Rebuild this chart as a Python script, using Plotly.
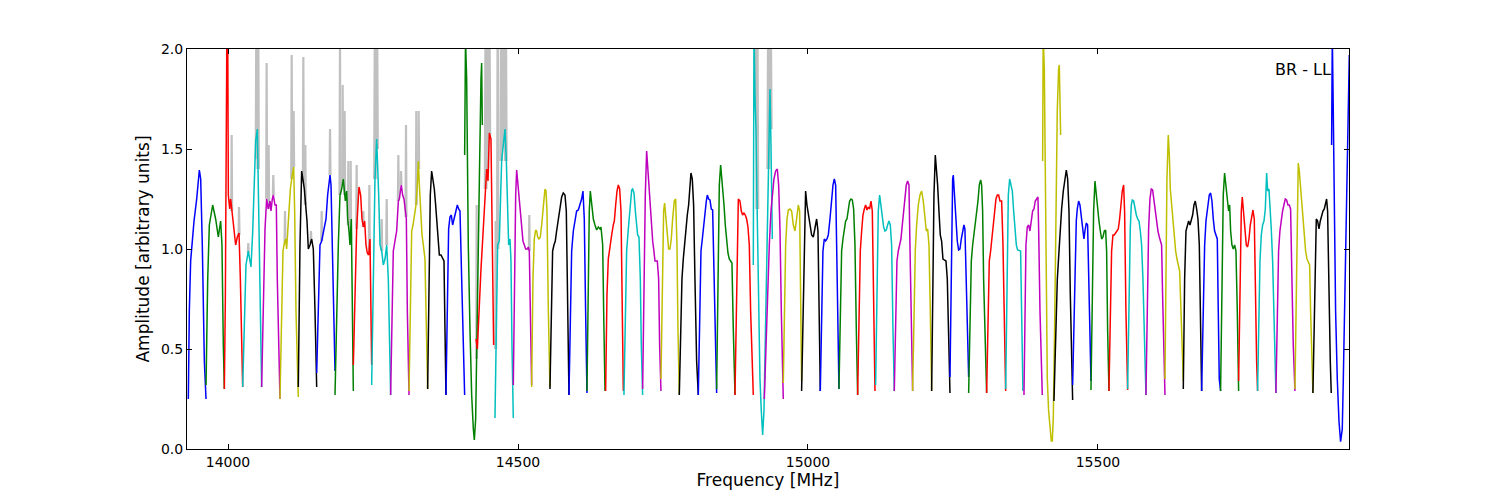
import plotly.graph_objects as go

# ---------------- data ----------------
x_ticks_mhz = [14000, 14500, 15000, 15500]
x_tick_labels = ["14000", "14500", "15000", "15500"]
y_ticks = [0.0, 0.5, 1.0, 1.5, 2.0]
y_tick_labels = ["0.0", "0.5", "1.0", "1.5", "2.0"]
x_range_mhz = [13929.3, 15932.8]
y_range = [0.0, 2.0]
label_text = "BR - LL"

color_cycle = ["#0000ff", "#008000", "#ff0000", "#00bfbf", "#bf00bf", "#bfbf00", "#000000"]
raw_color = "#c0c0c0"

# per-channel (spectral window) frequencies [MHz]
seg_freq = [
    [13931.6,13933.3,13935.6,13941.4,13946.0,13950.6,13952.9,13955.7,13959.2,13962.1],
    [13962.1,13965.0,13967.8,13973.6,13978.7,13983.3,13987.3,13989.6,13991.9,13993.7],
    [13993.7,13995.4,13997.7,13998.8,14000.6,14002.9,14004.6,14006.9,14009.8,14013.2,14016.1,14019.0,14021.3,14023.6,14025.3],
    [14025.3,14028.1,14031.0,14035.0,14039.6,14042.5,14045.4,14047.7,14050.6,14052.9,14055.2,14058.0],
    [14058.0,14060.9,14063.8,14066.6,14069.5,14072.4,14074.1,14076.4,14078.1,14081.0,14083.3,14085.0,14087.3,14089.6],
    [14089.6,14092.5,14094.8,14096.5,14099.4,14101.1,14104.0,14107.5,14109.8,14113.2,14114.9,14117.2,14121.2],
    [14121.2,14124.1,14127.0,14129.9,14131.6,14133.9,14136.2,14138.5,14141.4,14144.2,14147.1,14150.0,14152.9],
    [14152.9,14155.7,14158.6,14161.5,14166.1,14169.0,14171.8,14175.9,14177.6,14179.9,14182.2,14184.5],
    [14184.5,14187.3,14190.2,14193.1,14196.0,14198.8,14200.6,14202.3,14204.6,14206.3,14208.6,14210.3,14212.6,14214.4,14216.1],
    [14216.1,14219.0,14221.8,14225.8,14228.7,14231.0,14233.3,14235.6,14237.9,14240.2,14242.5,14244.8,14246.5,14247.7],
    [14247.7,14250.6,14253.4,14256.3,14258.0,14259.8,14262.1,14265.0,14267.8,14270.7,14273.6,14276.4,14278.7,14280.4],
    [14280.4,14282.7,14285.0,14287.9,14290.8,14293.7,14295.4,14298.8,14301.1,14303.4,14305.7,14307.5,14309.2,14312.1],
    [14312.1,14314.4,14316.7,14319.0,14321.3,14324.1,14326.4,14328.2,14329.9,14332.2,14334.5,14336.8,14339.6,14341.4,14344.2],
    [14344.2,14346.5,14348.8,14351.1,14353.4,14355.7,14358.0,14359.8,14362.1,14364.4,14367.2,14370.1,14372.4,14374.1,14375.8],
    [14375.8,14378.1,14380.4,14382.7,14385.0,14387.3,14389.6,14392.5,14395.4,14397.7,14400.0,14402.9,14405.7,14408.0],
    [14408.0,14409.5,14411.5,14414.3,14417.2,14420.1,14423.0,14424.7,14427.0,14429.3,14431.6,14433.9,14436.2,14437.3,14438.5],
    [14427.6,14429.9,14436.2,14440.2,14446.0,14448.3,14450.6,14453.4,14455.7,14458.0],
    [14460.3,14462.6,14464.9,14467.8,14470.1,14471.8,14474.7,14477.6,14479.9,14482.2,14483.9,14486.2,14487.9,14489.6,14491.9],
    [14491.9,14493.7,14496.0,14497.7,14499.4,14501.7,14504.0,14506.3,14508.6,14510.9,14513.2,14516.1,14517.8,14519.5,14521.2,14523.5],
    [14523.5,14525.8,14528.1,14530.4,14532.2,14533.9,14536.2,14538.5,14540.8,14543.7,14546.5,14548.3,14550.0,14552.3,14555.1],
    [14555.1,14557.4,14559.7,14562.0,14564.3,14566.6,14569.5,14572.4,14575.3,14578.1,14581.0,14583.3,14585.6,14587.9],
    [14587.9,14590.2,14592.5,14595.4,14598.2,14601.1,14604.0,14606.9,14609.7,14612.0,14614.3,14616.6,14618.9],
    [14618.9,14621.2,14622.9,14624.7,14627.0,14629.9,14632.7,14635.6,14638.5,14641.4,14643.1,14646.0,14647.7,14650.0],
    [14651.1,14653.4,14655.7,14658.6,14661.5,14664.3,14666.1,14668.4,14670.7,14673.0,14675.3,14677.6,14679.9,14681.6],
    [14682.7,14685.0,14687.3,14690.2,14693.1,14696.0,14697.7,14700.0,14702.3,14704.6,14706.3,14708.6,14710.9,14712.6,14714.9],
    [14714.9,14717.2,14719.5,14721.8,14723.5,14725.8,14728.1,14730.4,14732.2,14733.9,14736.2,14740.2,14742.5,14744.2,14746.5],
    [14746.5,14748.8,14751.1,14752.8,14755.1,14757.4,14759.7,14762.0,14764.3,14766.6,14769.5,14771.8,14774.1,14775.8,14778.1],
    [14778.1,14780.4,14782.7,14785.0,14787.3,14789.6,14791.9,14794.2,14796.5,14798.2,14800.5,14802.8,14805.1,14808.0,14810.9],
    [14810.9,14813.2,14815.5,14817.8,14820.1,14822.4,14824.7,14826.4,14828.7,14831.0,14833.3,14835.6,14837.9,14840.2,14842.5],
    [14842.5,14844.8,14847.1,14849.4,14851.1,14852.9,14855.2,14857.4,14859.7,14862.0,14864.3,14866.6,14868.9,14871.2,14874.1],
    [14874.1,14876.4,14878.1,14879.9,14882.7,14885.0,14887.3,14889.6,14891.9,14894.2,14896.5,14898.8,14901.1,14903.4,14905.7],
    [14905.7,14906.9,14908.6,14910.3,14911.5,14913.2,14914.9,14917.2,14919.5,14921.8,14924.1,14925.8,14927.6,14929.9,14932.2,14934.5,14936.2,14937.3,14938.5],
    [14924.7,14927.6,14930.4,14933.3,14936.2,14938.5,14941.3,14944.2,14947.1,14949.4,14951.7,14954.0,14955.7,14957.4],
    [14957.4,14959.2,14961.5,14963.8,14966.1,14968.9,14971.8,14974.7,14977.6,14980.4,14983.3,14985.6,14987.3,14989.0],
    [14989.0,14991.3,14993.6,14995.9,14998.2,15000.5,15003.4,15006.3,15009.2,15012.0,15014.9,15017.2,15018.9,15021.2],
    [15021.2,15023.5,15025.8,15028.1,15030.4,15032.7,15035.0,15037.9,15040.8,15043.1,15045.4,15047.7,15049.4,15051.1,15053.4],
    [15053.4,15055.7,15058.0,15060.3,15062.6,15064.9,15067.2,15069.5,15071.8,15074.1,15076.4,15078.7,15081.0,15083.3,15085.6],
    [15085.6,15087.9,15090.2,15092.5,15094.8,15097.1,15099.4,15101.7,15104.0,15106.3,15108.6,15110.9,15113.2,15115.5],
    [15116.6,15118.9,15121.2,15123.5,15125.8,15128.1,15130.4,15132.7,15135.0,15137.3,15139.6,15141.9,15144.2,15146.5,15148.8],
    [15148.8,15151.1,15153.4,15155.7,15158.0,15160.3,15162.6,15164.9,15167.2,15169.5,15171.8,15174.1,15175.8,15178.1,15180.4],
    [15180.4,15182.7,15185.0,15187.3,15190.2,15193.1,15195.9,15198.8,15201.7,15204.0,15206.3,15208.6,15210.9,15213.2],
    [15213.2,15215.5,15217.2,15219.5,15221.2,15223.5,15225.8,15228.1,15230.4,15232.7,15235.0,15237.9,15240.2,15242.5,15244.8],
    [15244.8,15247.1,15249.4,15250.5,15252.8,15255.1,15257.4,15259.7,15262.0,15264.3,15266.6,15268.9,15270.6,15272.4,15274.7,15277.0],
    [15277.0,15279.3,15281.6,15283.9,15286.2,15288.5,15290.8,15293.1,15295.4,15297.7,15299.4,15301.1,15302.8,15305.1,15308.0],
    [15308.0,15310.3,15312.6,15314.9,15317.2,15319.5,15321.8,15324.1,15326.4,15328.7,15331.0,15333.9,15336.2,15338.5,15340.8],
    [15340.8,15343.1,15345.4,15347.7,15350.0,15352.3,15354.6,15356.9,15359.2,15361.4,15364.3,15366.6,15368.3,15370.6],
    [15372.4,15374.1,15375.8,15378.1,15380.4,15382.7,15385.0,15387.3,15389.6,15391.9,15394.2,15396.5,15397.7,15400.0,15404.0],
    [15404.6,15405.5,15407.5,15408.6,15410.3,15412.6,15414.9,15417.2,15419.5,15421.2,15422.9,15425.2,15427.5,15429.8,15432.1,15433.3,15435.6],
    [15424.1,15427.0,15429.9,15432.8,15435.0,15437.3,15440.2,15443.1,15445.4,15447.7,15450.0,15452.3,15454.6,15456.3],
    [15456.3,15458.6,15460.9,15462.6,15464.3,15466.6,15468.9,15471.2,15473.5,15475.8,15477.5,15479.8,15482.1,15484.4,15486.7,15487.9],
    [15487.9,15490.2,15492.5,15494.8,15497.1,15499.4,15501.7,15504.0,15506.3,15508.6,15510.9,15513.2,15514.9,15516.6,15518.9],
    [15518.9,15521.2,15523.5,15525.8,15528.1,15530.4,15532.7,15535.0,15537.3,15539.6,15541.9,15544.2,15545.9,15548.2,15551.1],
    [15551.1,15553.4,15555.7,15557.4,15559.2,15561.5,15563.8,15566.1,15568.4,15570.7,15573.0,15575.2,15577.5,15579.8,15582.7],
    [15582.7,15585.0,15587.3,15589.6,15591.9,15594.2,15596.5,15598.8,15601.1,15603.4,15605.7,15608.0,15609.7,15611.4,15613.2,15615.5],
    [15615.5,15617.2,15618.9,15621.2,15623.0,15624.7,15627.0,15629.3,15631.6,15633.9,15636.2,15638.5,15640.8,15643.1,15645.4,15647.1],
    [15647.1,15649.4,15651.7,15654.0,15656.3,15658.6,15660.9,15663.2,15665.5,15667.8,15670.1,15672.4,15674.7,15676.4,15678.7],
    [15678.7,15681.6,15683.9,15686.2,15689.0,15691.9,15694.2,15696.5,15698.8,15701.1,15703.4,15705.7,15707.4,15709.1,15711.4],
    [15711.4,15713.7,15716.0,15718.3,15720.6,15722.9,15725.2,15727.0,15728.7,15731.0,15733.3,15735.6,15737.9,15740.2,15742.5],
    [15742.5,15744.8,15747.1,15748.8,15751.1,15753.4,15755.7,15758.0,15760.3,15762.6,15764.9,15767.2,15769.5,15771.2,15773.5,15775.2],
    [15775.2,15777.5,15779.3,15781.6,15783.9,15786.2,15788.5,15790.8,15792.5,15794.8,15796.5,15798.8,15801.1,15803.4,15806.8],
    [15806.8,15809.1,15811.4,15813.7,15816.0,15818.3,15820.6,15822.9,15825.2,15827.5,15829.8,15832.1,15834.4,15836.7,15839.6],
    [15839.6,15841.9,15843.6,15845.3,15847.1,15849.4,15851.1,15853.4,15855.7,15858.0,15860.3,15862.6,15864.9,15866.6,15868.9,15870.6],
    [15870.6,15872.9,15874.7,15876.4,15878.7,15881.0,15883.3,15885.6,15887.9,15890.2,15892.5,15894.2,15895.9,15898.2,15900.5,15902.2],
    [15902.8,15904.0,15905.7,15907.4,15909.7,15912.6,15915.5,15918.3,15921.2,15923.0,15925.8,15928.7,15931.6,15933.3],
]

# per-channel calibrated amplitudes [arbitrary units]
seg_amp = [
    [0.25,0.69,0.94,1.14,1.25,1.395,1.35,1.02,0.44,0.25],
    [0.32,0.85,1.12,1.22,1.15,1.06,1.14,1.02,0.52,0.30],
    [0.30,0.75,1.90,2.60,1.27,1.20,1.25,1.19,1.09,1.02,1.06,1.08,0.85,0.44,0.31],
    [0.31,0.69,0.92,0.99,0.91,1.08,1.30,1.54,1.60,1.20,0.60,0.31],
    [0.31,0.69,1.10,1.25,1.20,1.24,1.19,1.25,1.27,1.22,1.22,0.85,0.44,0.25],
    [0.25,0.69,0.99,1.02,1.05,1.00,1.15,1.30,1.35,1.41,1.19,0.69,0.26],
    [0.31,1.02,1.39,1.34,1.30,1.22,1.14,1.00,1.02,1.05,1.00,0.69,0.31],
    [0.38,0.77,1.02,1.04,1.12,1.15,1.27,1.37,1.32,1.02,0.69,0.39],
    [0.27,0.69,1.02,1.27,1.30,1.35,1.27,1.24,1.29,1.15,1.09,1.02,1.15,0.69,0.29],
    [0.42,0.77,1.10,1.31,1.27,1.15,1.11,1.14,1.02,0.98,0.97,1.05,0.69,0.42],
    [0.32,0.85,1.35,1.55,1.45,1.27,1.02,0.99,0.92,0.95,1.02,0.85,0.52,0.27],
    [0.27,0.69,0.99,1.04,1.09,1.24,1.25,1.32,1.27,1.25,1.17,1.15,0.69,0.27],
    [0.29,0.77,1.09,1.12,1.17,1.22,1.32,1.44,1.32,1.19,1.07,1.02,0.95,0.69,0.30],
    [0.30,0.85,1.27,1.39,1.35,1.30,1.22,1.15,1.02,0.97,0.97,0.95,0.94,0.60,0.27],
    [0.27,0.69,1.10,1.16,1.17,1.12,1.15,1.18,1.22,1.20,1.19,0.85,0.44,0.27],
    [1.47,2.05,1.85,1.02,0.60,0.27,0.10,0.045,0.15,0.52,0.94,1.44,1.85,1.93,1.62],
    [0.55,0.50,0.90,1.12,1.40,1.34,1.58,1.55,1.00,0.52],
    [0.155,0.52,1.02,1.04,1.27,1.44,1.52,1.60,1.44,1.19,1.02,1.05,0.94,0.52,0.155],
    [0.32,0.85,1.27,1.395,1.34,1.27,1.19,1.10,1.04,1.02,1.00,1.00,1.01,0.99,0.69,0.32],
    [0.31,0.85,1.05,1.095,1.09,1.06,1.05,1.06,1.12,1.22,1.30,1.29,1.19,0.69,0.31],
    [0.30,0.77,0.99,1.02,1.04,1.09,1.14,1.19,1.26,1.28,1.27,1.19,0.69,0.27],
    [0.27,0.69,0.99,1.09,1.15,1.19,1.195,1.22,1.25,1.29,1.15,0.69,0.28],
    [0.29,0.85,1.19,1.29,1.24,1.15,1.12,1.095,1.11,1.10,1.11,1.02,0.69,0.29],
    [0.29,0.77,0.95,1.02,1.07,1.12,1.14,1.22,1.29,1.32,1.30,1.19,0.69,0.29],
    [0.27,0.69,0.99,1.10,1.22,1.295,1.30,1.28,1.19,1.12,1.07,1.06,0.85,0.52,0.27],
    [0.30,0.85,1.27,1.49,1.42,1.32,1.19,1.09,1.04,1.00,0.94,0.94,0.85,0.52,0.29],
    [0.35,0.85,1.19,1.23,1.15,1.05,1.00,1.00,1.05,1.15,1.24,1.25,1.02,0.60,0.27],
    [0.27,0.60,0.85,0.95,1.04,1.09,1.17,1.22,1.32,1.38,1.35,1.22,0.85,0.44,0.27],
    [0.27,0.69,0.99,1.05,1.12,1.17,1.24,1.27,1.25,1.245,1.20,1.195,0.85,0.52,0.28],
    [0.30,0.85,1.32,1.42,1.37,1.32,1.22,1.12,1.04,0.98,0.95,0.94,0.93,0.60,0.27],
    [0.27,0.69,1.10,1.25,1.24,1.19,1.17,1.18,1.17,1.15,1.11,1.02,0.69,0.44,0.27],
    [0.92,2.10,1.77,1.60,1.35,1.02,0.69,0.35,0.19,0.07,0.19,0.44,0.69,1.10,1.52,1.80,1.52,1.27,1.05],
    [0.25,0.52,0.85,1.02,1.19,1.27,1.35,1.39,1.40,1.32,1.10,0.69,0.44,0.25],
    [0.33,0.69,1.02,1.15,1.195,1.20,1.19,1.12,1.09,1.15,1.22,1.19,0.69,0.34],
    [0.29,0.69,1.10,1.29,1.22,1.17,1.12,1.07,1.06,1.10,1.15,1.09,0.69,0.29],
    [0.29,0.69,0.99,1.05,1.04,1.05,1.07,1.15,1.27,1.32,1.35,1.32,1.02,0.60,0.30],
    [0.30,0.69,0.99,1.05,1.09,1.14,1.15,1.19,1.24,1.25,1.245,1.20,1.02,0.60,0.27],
    [0.27,0.69,0.99,1.09,1.17,1.20,1.22,1.195,1.21,1.20,1.24,1.19,0.77,0.29],
    [0.32,0.85,1.19,1.27,1.22,1.15,1.11,1.09,1.095,1.12,1.14,1.12,1.02,0.60,0.29],
    [0.29,0.69,0.94,0.99,1.02,1.05,1.12,1.19,1.27,1.32,1.34,1.32,1.02,0.60,0.29],
    [0.29,0.69,0.99,1.12,1.22,1.27,1.29,1.24,1.15,1.09,1.10,1.02,0.69,0.29],
    [0.29,0.85,1.27,1.47,1.42,1.32,1.19,1.07,1.04,0.95,0.945,0.94,0.85,0.52,0.28],
    [0.36,1.02,1.35,1.37,1.25,1.14,1.04,0.995,1.00,1.05,1.09,1.12,1.10,0.85,0.52,0.36],
    [0.28,0.69,0.94,1.02,1.07,1.12,1.19,1.24,1.32,1.345,1.32,1.19,0.85,0.52,0.28],
    [0.28,0.69,0.94,0.99,1.05,1.14,1.19,1.25,1.27,1.27,1.24,1.24,1.02,0.60,0.29],
    [0.30,0.85,1.27,1.35,1.32,1.29,1.19,1.09,1.02,0.995,0.99,0.99,0.69,0.29],
    [0.27,0.69,1.02,1.11,1.12,1.09,1.14,1.19,1.20,1.24,1.25,1.26,1.10,0.69,0.27],
    [1.44,2.07,1.90,1.60,0.85,0.35,0.19,0.09,0.04,0.04,0.15,0.60,1.19,1.69,1.90,1.92,1.57],
    [0.24,0.55,0.85,0.99,1.10,1.20,1.29,1.35,1.395,1.35,1.19,0.77,0.35,0.245],
    [0.32,0.69,1.02,1.14,1.20,1.24,1.22,1.17,1.12,1.05,1.09,1.13,1.12,0.85,0.52,0.34],
    [0.295,0.85,1.19,1.34,1.27,1.19,1.14,1.09,1.05,1.06,1.09,1.095,0.99,0.60,0.29],
    [0.29,0.69,0.99,1.07,1.07,1.08,1.09,1.10,1.15,1.22,1.29,1.32,1.19,0.69,0.295],
    [0.30,0.77,1.10,1.22,1.245,1.24,1.20,1.17,1.15,1.14,1.09,1.02,0.85,0.52,0.27],
    [0.27,0.69,1.10,1.25,1.30,1.295,1.24,1.17,1.12,1.09,1.06,1.04,1.02,0.77,0.52,0.27],
    [0.35,0.85,1.35,1.57,1.47,1.30,1.22,1.14,1.05,0.99,0.95,0.92,0.89,0.69,0.44,0.34],
    [0.30,0.85,1.09,1.12,1.14,1.12,1.15,1.17,1.22,1.24,1.20,1.15,1.02,0.69,0.29],
    [0.29,0.69,1.02,1.14,1.22,1.27,1.28,1.24,1.15,1.09,1.07,1.05,0.69,0.35,0.29],
    [0.29,0.85,1.27,1.38,1.32,1.25,1.19,1.22,1.09,1.02,1.00,1.02,0.99,0.69,0.29],
    [0.34,0.85,1.19,1.26,1.19,1.09,1.02,1.01,1.05,1.12,1.17,1.195,1.15,0.77,0.44,0.29],
    [0.29,0.69,0.94,1.07,1.12,1.14,1.20,1.38,1.29,1.30,1.22,1.10,0.94,0.60,0.28],
    [0.28,0.69,0.99,1.09,1.15,1.19,1.22,1.25,1.245,1.22,1.22,1.20,0.85,0.52,0.29],
    [0.30,0.85,1.27,1.43,1.39,1.30,1.27,1.15,1.05,0.99,0.95,0.935,0.92,0.69,0.44,0.28],
    [0.28,0.69,1.02,1.15,1.14,1.10,1.14,1.17,1.19,1.20,1.24,1.25,1.19,0.77,0.44,0.28],
    [1.52,2.07,1.69,1.19,0.69,0.35,0.14,0.037,0.10,0.35,0.85,1.35,1.85,1.97],
]

# uncalibrated (raw) data: RFI spikes visible above the calibrated curves
raw_spike_freq = [14006.3,14019.0,14035.0,14049.0,14052.0,14066.6,14070.1,14078.1,14098.3,
                  14109.8,14113.2,14129.9,14133.3,14143.1,14161.5,14175.9,14193.1,14197.7,
                  14201.1,14207.5,14211.5,14221.8,14233.3,14243.7,14253.4,14256.9,14265.0,
                  14273.6,14293.7,14298.3,14306.9,14324.7,14328.7,14428.7,14444.2,14447.1,
                  14450.6,14461.5,14465.0,14471.0,14475.0,14479.0,14519.5,14909.7,14912.6,
                  14931.6,14935.6]
raw_spike_peak = [1.57,1.21,1.03,2.30,2.30,1.93,1.52,1.37,1.19,
                  1.97,1.69,1.96,1.52,1.09,1.19,1.60,2.05,1.82,
                  1.69,1.44,1.44,1.42,1.19,1.32,2.30,2.30,1.15,
                  1.25,1.47,1.39,1.62,1.69,1.69,1.22,2.30,2.30,
                  2.30,1.14,2.30,2.30,2.30,2.30,1.17,2.30,2.30,
                  2.30,2.30]
raw_spike_base = [1.19,1.07,0.98,1.45,1.40,1.25,1.20,1.27,1.03,
                  1.35,1.41,1.34,1.22,1.03,1.04,1.37,1.27,1.32,
                  1.27,1.12,1.05,1.10,1.11,1.00,1.35,1.50,0.99,
                  1.02,1.24,1.32,1.16,1.22,1.40,0.45,1.30,1.38,
                  1.55,0.50,1.00,1.44,1.52,1.44,0.99,1.70,1.20,
                  1.40,1.60]
raw_spike_halfwidth = [0.8,0.8,0.8,1.2,1.2,0.8,0.8,0.8,0.8,
                       0.8,0.8,0.8,0.8,0.8,0.8,0.8,0.9,0.8,
                       0.8,0.8,0.8,0.8,0.8,0.8,1.4,1.4,0.8,
                       0.8,0.8,0.8,0.8,0.8,0.8,0.6,1.4,1.4,
                       1.4,0.8,1.2,1.4,1.4,1.4,0.8,1.6,1.6,
                       1.6,1.6]

# ---------------- figure ----------------
fig = go.Figure()

# raw data beneath
rx, ry = [], []
for f, p, b, w in zip(raw_spike_freq, raw_spike_peak, raw_spike_base, raw_spike_halfwidth):
    rx += [f - w, f, f + w, None]
    ry += [b, p, b, None]
fig.add_trace(go.Scatter(x=rx, y=ry, mode="lines",
                         line=dict(color=raw_color, width=2.2),
                         hoverinfo="skip", showlegend=False))

for i, (fx, ay) in enumerate(zip(seg_freq, seg_amp)):
    fig.add_trace(go.Scatter(x=fx, y=ay, mode="lines",
                             line=dict(color=color_cycle[i % len(color_cycle)], width=1.5),
                             showlegend=False))

axis_common = dict(showline=True, linecolor="black", linewidth=1, mirror="allticks",
                   ticks="inside", ticklen=5, tickcolor="black", tickwidth=1,
                   showgrid=False, zeroline=False)

fig.update_layout(
    width=1500, height=500,
    margin=dict(l=179, r=159, t=41, b=59),
    plot_bgcolor="white", paper_bgcolor="white",
    font=dict(family="DejaVu Sans", size=14, color="black"),
    showlegend=False,
    xaxis=dict(range=x_range_mhz, tickvals=x_ticks_mhz, ticktext=x_tick_labels,
               title=dict(text="Frequency [MHz]", standoff=4), **axis_common),
    yaxis=dict(range=y_range, tickvals=y_ticks, ticktext=y_tick_labels,
               title=dict(text="Amplitude [arbitrary units]", standoff=6), **axis_common),
    annotations=[dict(text=label_text, xref="paper", yref="paper", x=0.986, y=0.95,
                      xanchor="right", yanchor="middle", showarrow=False,
                      font=dict(family="DejaVu Sans", size=16, color="black"))],
)

fig.write_html("out.html")
